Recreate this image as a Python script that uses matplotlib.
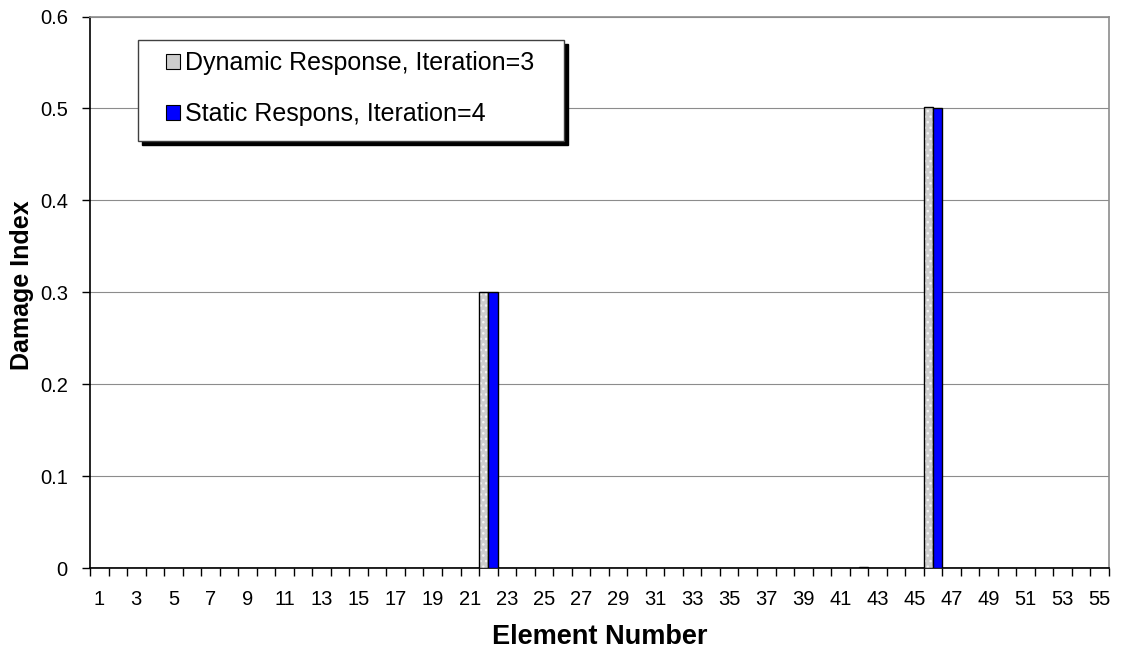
import matplotlib
matplotlib.use("Agg")
import matplotlib.pyplot as plt
from matplotlib.ticker import FixedLocator
from matplotlib.patches import Rectangle, Patch

plt.rcParams['font.family'] = ['Liberation Sans', 'DejaVu Sans']

elements = list(range(1, 56))
dynamic = [0, 0, 0, 0, 0, 0, 0, 0, 0, 0,
           0, 0, 0, 0, 0, 0, 0, 0, 0, 0,
           0, 0.3, 0, 0, 0, 0, 0, 0, 0, 0,
           0, 0, 0, 0, 0, 0, 0, 0, 0, 0,
           0, 0, 0, 0, 0, 0.501, 0, 0, 0, 0,
           0, 0, 0, 0, 0]
static = [0, 0, 0, 0, 0, 0, 0, 0, 0, 0,
          0, 0, 0, 0, 0, 0, 0, 0, 0, 0,
          0, 0.3, 0, 0, 0, 0, 0, 0, 0, 0,
          0, 0, 0, 0, 0, 0, 0, 0, 0, 0,
          0, 0.001, 0, 0, 0, 0.5, 0, 0, 0, 0,
          0, 0, 0, 0, 0]
labels = ["Dynamic Response, Iteration=3", "Static Respons, Iteration=4"]
y_ticks = [0, 0.1, 0.2, 0.3, 0.4, 0.5, 0.6]
y_ticklabels = ["0", "0.1", "0.2", "0.3", "0.4", "0.5", "0.6"]

DYN_COLOR = '#cdcdcd'
STA_COLOR = '#0000ff'

W, H = 1121, 657
fig = plt.figure(figsize=(W / 100, H / 100), dpi=100)
ax = fig.add_axes([90 / W, 1 - 568 / H, (1109 - 90) / W, (568 - 16.5) / H])

bw = 0.5
xd = [e - bw / 2 for e in elements]
xs = [e + bw / 2 for e in elements]
ax.bar(xd, dynamic, width=bw, color=DYN_COLOR, edgecolor='#f4f4f4', linewidth=0,
       hatch='...', zorder=3)
ax.bar(xd, dynamic, width=bw, fill=False, edgecolor='black', linewidth=1.0, zorder=4)
ax.bar(xs, static, width=bw, color=STA_COLOR, edgecolor='black', linewidth=1.0, zorder=4)

ax.set_xlim(0.5, 55.5)
ax.set_ylim(0, 0.6)

ax.xaxis.set_major_locator(FixedLocator(elements[::2]))
ax.set_xticklabels([str(e) for e in elements[::2]])
ax.xaxis.set_minor_locator(FixedLocator([e + 0.5 for e in [0] + elements]))
ax.tick_params(axis='x', which='major', length=0, pad=15.5, labelsize=14.5)
ax.tick_params(axis='x', which='minor', length=6, width=1, direction='out', color='black')

ax.set_yticks(y_ticks)
ax.set_yticklabels(y_ticklabels)
ax.tick_params(axis='y', length=6, width=1, direction='out', pad=10, labelsize=14.5)

ax.yaxis.grid(True, color='#8c8c8c', linewidth=0.8, zorder=0)
ax.set_axisbelow(True)

for s in ['top', 'right']:
    ax.spines[s].set_color('#8c8c8c')
    ax.spines[s].set_linewidth(1.2)
for s in ['left', 'bottom']:
    ax.spines[s].set_color('black')
    ax.spines[s].set_linewidth(1.2)

fig.text(599.5 / W, 1 - 644 / H, "Element Number", fontsize=19.5, fontweight='bold',
         ha='center', va='baseline')
fig.text(22 / W, 1 - 285 / H, "Damage Index", fontsize=18, fontweight='bold',
         ha='center', va='center', rotation=90)

# legend frame with solid shadow
lx0, ly0, lx1, ly1 = 138, 40, 564, 141
fig.patches.append(Rectangle(((lx0 + 4) / W, 1 - (ly1 + 4) / H), (lx1 - lx0) / W,
                             (ly1 - ly0) / H, transform=fig.transFigure,
                             facecolor='black', edgecolor='black', zorder=5))
fig.patches.append(Rectangle((lx0 / W, 1 - ly1 / H), (lx1 - lx0) / W,
                             (ly1 - ly0) / H, transform=fig.transFigure,
                             facecolor='white', edgecolor='#404040', linewidth=1.0,
                             zorder=6))
handles = [Patch(facecolor=DYN_COLOR, edgecolor='black', linewidth=0.8),
           Patch(facecolor=STA_COLOR, edgecolor='black', linewidth=0.8)]
leg = fig.legend(handles, labels, loc='upper left',
                 bbox_to_anchor=(166 / W, 1 - 51 / H), bbox_transform=fig.transFigure,
                 fontsize=18, frameon=False,
                 handlelength=0.55, handleheight=0.55, handletextpad=0.2,
                 borderpad=0, labelspacing=1.1, borderaxespad=0)
leg.set_zorder(7)

fig.savefig("out.png", dpi=100)
